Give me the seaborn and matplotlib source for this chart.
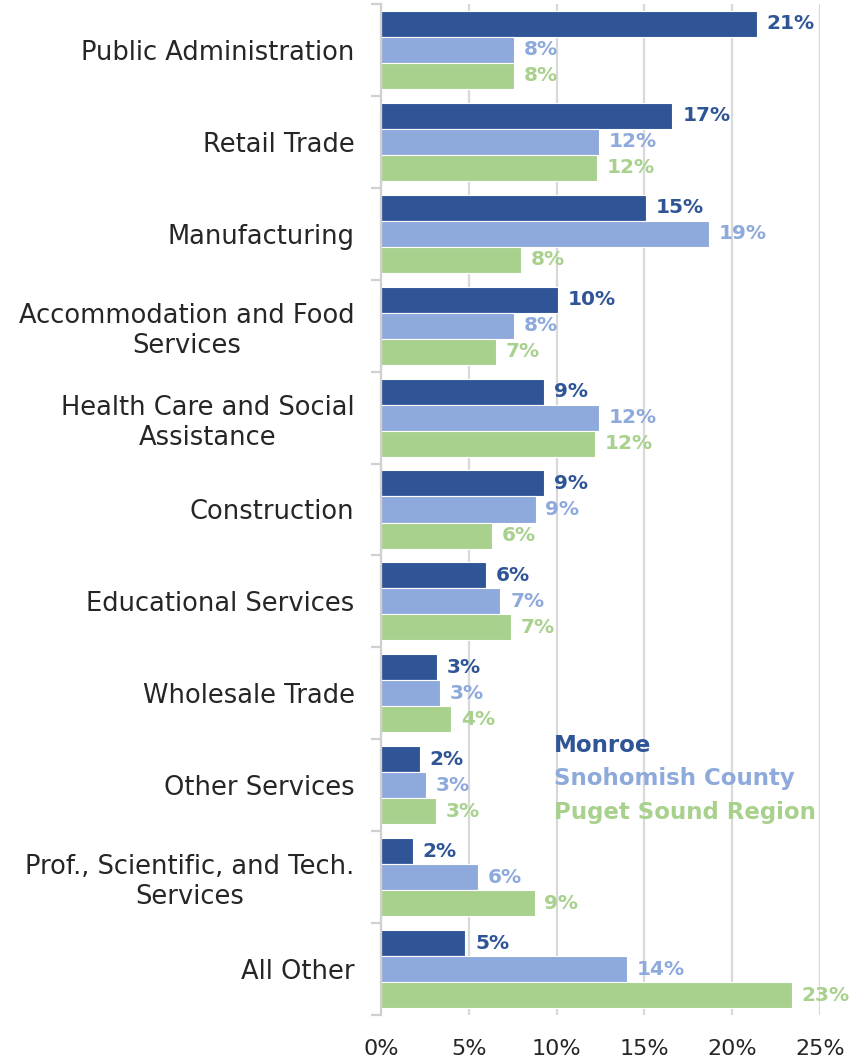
import numpy as np
import pandas as pd
import matplotlib
matplotlib.use("Agg")
import matplotlib.pyplot as plt
import matplotlib.patches as mpatches
from matplotlib.ticker import FixedLocator, FuncFormatter
import seaborn as sns

categories = [
    "Public Administration",
    "Retail Trade",
    "Manufacturing",
    "Accommodation and Food\nServices",
    "Health Care and Social\nAssistance",
    "Construction",
    "Educational Services",
    "Wholesale Trade",
    "Other Services",
    "Prof., Scientific, and Tech.\nServices",
    "All Other",
]
series_names = ["Monroe", "Snohomish County", "Puget Sound Region"]
monroe = [21.4, 16.6, 15.1, 10.1, 9.3, 9.3, 6.0, 3.2, 2.2, 1.8, 4.8]
snohomish = [7.55, 12.4, 18.7, 7.6, 12.4, 8.8, 6.8, 3.35, 2.55, 5.55, 14.0]
puget = [7.6, 12.3, 8.0, 6.55, 12.2, 6.3, 7.4, 4.0, 3.15, 8.75, 23.4]
x_ticks = [0, 5, 10, 15, 20, 25]
colors = ["#2F5597", "#8EA9DB", "#A9D18E"]

df = pd.DataFrame({
    "Industry": categories * 3,
    "Series": [s for s in series_names for _ in categories],
    "Share": monroe + snohomish + puget,
})

sns.set_theme(style="white")
plt.rcParams["font.family"] = ["DejaVu Sans"]

fig = plt.figure(figsize=(8.52, 10.61), dpi=100)
ax = fig.add_axes([381 / 852, 1 - 1015 / 1061, (820 - 381) / 852, 1011 / 1061])

sns.barplot(data=df, y="Industry", x="Share", hue="Series", order=categories,
            hue_order=series_names, palette=colors, saturation=1, orient="h", width=0.85,
            edgecolor="white", linewidth=0.8, ax=ax, legend=False, zorder=3)

ax.set_xlim(0, 25)
ax.set_ylim(len(categories) - 0.5, -0.5)
ax.xaxis.set_major_locator(FixedLocator(x_ticks))
ax.xaxis.set_major_formatter(FuncFormatter(lambda v, p: f"{v:.0f}%"))
ax.grid(axis="x", color="#D9D9D9", linewidth=1.6, zorder=0)
ax.set_axisbelow(True)
ax.set_xlabel("")
ax.set_ylabel("")

for s in ["top", "right", "bottom"]:
    ax.spines[s].set_visible(False)
ax.spines["left"].set_color("#D0D0D0")
ax.spines["left"].set_linewidth(1.6)
ax.spines["left"].set_zorder(4)

ax.yaxis.set_minor_locator(FixedLocator(np.arange(-0.5, len(categories), 1)))
ax.tick_params(axis="y", which="major", length=0, pad=19, labelsize=18.5, labelcolor="#262626")
ax.tick_params(axis="y", which="minor", length=7, width=1.6, color="#D0D0D0", left=True)
ax.tick_params(axis="x", which="major", length=0, pad=17, labelsize=16, labelcolor="#262626")
for lab in ax.get_yticklabels():
    lab.set_multialignment("center")

all_vals = [monroe, snohomish, puget]
for cont, vals, col in zip(ax.containers, all_vals, colors):
    ax.bar_label(cont, labels=[f"{v:.0f}%" for v in vals], padding=7, color=col,
                 fontsize=14.5, fontweight="bold", clip_on=False)

handles = [mpatches.Patch(color="none") for _ in series_names]
leg = ax.legend(handles, series_names, loc="upper left", bbox_to_anchor=(0.393, 0.278),
                frameon=False, handlelength=0, handletextpad=0, borderpad=0,
                borderaxespad=0, labelspacing=0.45, labelcolor=colors,
                prop={"size": 16.5, "weight": "bold"})

fig.savefig("out.png", dpi=100)
